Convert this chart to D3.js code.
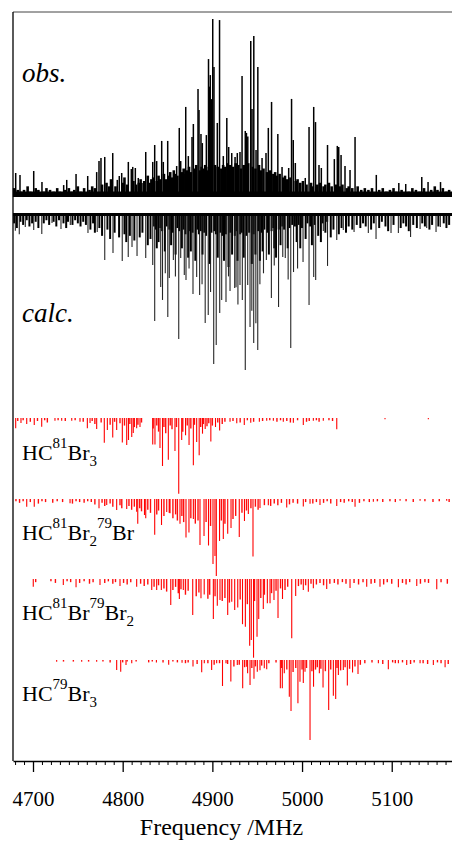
<!DOCTYPE html>
<html><head><meta charset="utf-8">
<script src="https://cdn.jsdelivr.net/npm/d3@7"></script>
<style>html,body{margin:0;padding:0;background:#fff;}svg{display:block;}</style>
</head><body>
<script>
// ---------- DATA (frequency MHz, relative intensity %) ----------
const majorTicks = [4700, 4800, 4900, 5000, 5100];
const xLabel = "Frequency /MHz";

const obsPeaks = [[4680.7,13.5],[4685.5,12.4],[4700.8,14.6],[4710.0,8.4],[4734.2,6.7],[4737.6,9.6],[4748.0,12.9],[4761.0,11.8],[4771.0,14.0],[4773.6,20.2],[4775.8,21.9],[4780.0,22.5],[4788.9,24.7],[4794.0,9.6],[4796.2,11.8],[4798.9,13.5],[4806.3,19.7],[4809.6,15.7],[4811.2,16.9],[4814.1,16.3],[4817.4,10.7],[4821.5,7.9],[4825.7,25.3],[4833.5,19.7],[4835.7,29.2],[4837.9,20.2],[4843.5,31.5],[4845.3,19.7],[4850.2,31.5],[4860.2,17.4],[4863.1,38.8],[4864.7,20.2],[4870.3,50.6],[4873.2,23.0],[4877.3,33.7],[4878.8,41.0],[4884.0,60.7],[4885.1,48.9],[4887.3,35.4],[4888.8,30.3],[4893.3,34.8],[4895.7,77.5],[4896.7,62],[4897.7,68.5],[4899.2,55],[4900.4,100],[4901.8,73.0],[4905.5,41.6],[4908.0,99.4],[4912.2,23.0],[4916.1,44.4],[4918.2,28.1],[4921.6,24.7],[4925.3,22.5],[4927.8,24.7],[4930.8,25.3],[4933.1,68.0],[4936.7,37.1],[4938.0,36],[4939.5,34],[4942.8,87.6],[4944.2,49.4],[4946.2,90.4],[4948.7,26.4],[4950.7,73.0],[4955.4,21.9],[4959.8,24.7],[4962.4,38.8],[4966.0,53.4],[4973.0,35.4],[4977.7,16.9],[4985.1,16.3],[4988.3,55.1],[4990.2,32.0],[4992.5,19.1],[5003.6,10.7],[5007.8,39.3],[5013.0,50.6],[5015.0,42.1],[5018.9,18.0],[5021.5,16.3],[5028.4,29.2],[5036.0,21.3],[5039.3,28.7],[5040.9,28.1],[5043.5,23.6],[5047.9,17.4],[5053.5,15.2],[5059.1,33.7],[5082.8,12.4],[5107.9,7.9],[5115.6,7.3],[5133.5,11.2],[5140.5,8.4],[5154.4,8.4]];

const obsGrass = [[4679,5],[4683,4],[4687,3],[4690,4],[4694,6],[4697,3],[4703,5],[4706,4],[4712,3],[4715,5],[4719,4],[4723,3],[4727,5],[4730,3],[4736,4],[4740,5],[4743,3],[4746,4],[4750,6],[4753,3],[4757,5],[4763,4],[4766,6],[4769,5],[4777,7],[4782,8],[4785,6],[4787,10],[4792,6],[4800,8],[4802,11],[4805,7],[4812,9],[4815,7],[4818,8],[4820,10],[4824,9],[4828,12],[4830,8],[4832,10],
[4834,11],[4838,9],[4840,12],[4842,10],[4846,13],[4848,10],[4851,12],[4853,14],[4855,11],[4857,15],[4859,13],[4861,12],[4866,14],[4868,16],[4870,13],[4872,15],[4874,17],[4876,14],[4880,16],[4882,18],[4886,15],[4888,17],[4890,16],[4892,18],[4894,15],[4896,17],[4899,16],[4903,18],[4906,17],[4910,16],[4912,18],[4914,17],[4917,19],[4920,18],[4923,17],[4926,19],[4929,18],[4932,16],[4935,18],[4938,17],[4940,19],[4945,17],[4948,16],[4952,18],[4954,15],[4957,16],[4961,14],[4964,15],[4968,13],[4970,14],[4972,12],[4975,13],[4979,11],[4981,12],[4983,10],[4987,11],[4993,9],[4995,10],
[4998,8],[5001,9],[5005,7],[5010,8],[5012,6],[5017,7],[5020,8],[5024,6],[5026,7],[5030,8],[5033,6],[5038,7],[5042,6],[5045,7],[5050,5],[5052,6],[5056,5],[5062,6],[5066,4],[5070,5],[5074,4],[5078,5],[5086,4],[5090,5],[5094,3],[5098,4],[5102,5],[5105,3],[5111,4],[5119,3],[5123,5],[5127,4],[5131,3],[5136,5],[5144,4],[5148,6],[5151,4],[5157,5],[5161,3],[5164,4]];

const calcPeaks = [[4680.3,10.7],[4684.7,13.0],[4691.4,8.3],[4700.8,10.3],[4709.8,12.8],[4721.2,5.8],[4731.2,9.6],[4741.6,7.1],[4761.3,12.2],[4771.6,11.5],[4780.0,29.5],[4789.2,25.0],[4799.5,30.1],[4806.2,27.6],[4810.4,21.2],[4816.0,27.0],[4825.7,28.2],[4833.5,32.7],[4835.7,68.6],[4842.4,46.8],[4844.4,55.1],[4847.5,38],[4850.3,66.0],[4852.0,41.0],[4856.5,29.5],[4858.8,40],[4862.5,80.1],[4864.7,28.2],[4868.7,39.1],[4870.6,42.3],[4874.0,35],[4878.4,51.3],[4882.5,40.4],[4885.8,51.9],[4888.5,45],[4892.0,69.9],[4895.4,64.7],[4898.0,50],[4901.5,96.2],[4904.3,84.0],[4908.2,63.5],[4910.4,55.1],[4915.2,56.4],[4918.0,40],[4919.7,49.4],[4924.9,47.4],[4926.4,47.0],[4928.5,58],[4930.8,45.5],[4933.4,55.1],[4936.7,100],[4939.4,45.5],[4942.0,72.4],[4944.0,62],[4946.1,82.7],[4948.5,70],[4950.6,87.2],[4953.0,45],[4957.0,38],[4960.2,29.5],[4965.8,53.8],[4969.0,33],[4973.8,59.6],[4978.5,27.6],[4981.3,28.2],[4984.5,42],[4987.4,85.9],[4990.5,37.2],[4995.0,35],[5001.1,30.8],[5007.8,58.3],[5013.0,40.4],[5015.2,42.3],[5023.7,10.9],[5028.4,33.3],[5038.7,16.7],[5046.0,10.3],[5058.0,11.5],[5073.9,12.2],[5082.5,16.0],[5099.2,12.2],[5107.4,12.2],[5121.0,14.7],[5131.6,9.6],[5139.0,9.0],[5149.4,11.5],[5154.2,8.3]];

const calcGrass = [[4679,6],[4682,9],[4686,5],[4689,7],[4693,4],[4696,8],[4699,6],[4703,5],[4706,9],[4712,6],[4715,4],[4718,7],[4723,5],[4726,8],[4729,4],[4734,6],[4737,9],[4739,5],[4744,7],[4747,4],[4750,6],[4753,8],[4756,5],[4759,7],[4764,10],[4767,6],[4769,12],[4774,9],[4777,14],[4783,10],[4786,16],[4791,12],[4796,15],[4802,13],[4804,18],[4808,14],[4813,17],[4819,15],[4822,12],[4828,20],[4831,16],[4838,22],[4840,18],[4847,24],[4854,20],[4859,26],[4866,22],[4873,28],[4876,24],[4881,30],[4889,26],[4897,32],[4906,28],[4913,30],[4918,34],[4922,26],[4928,30],[4935,28],[4944,32],[4948,26],[4953,30],[4956,24],[4963,26],[4969,22],[4971,28],[4976,20],[4984,22],[4994,18],[4998,22],[5004,16],[5011,20],[5018,14],[5021,18],[5026,12],[5032,15],[5035,10],[5041,13],[5044,9],[5049,12],[5052,8],[5056,10],[5061,7],[5065,9],[5068,6],[5071,8],[5077,10],[5080,6],[5086,9],[5089,5],[5093,8],[5096,11],[5102,7],[5110,9],[5113,6],[5116,8],[5119,11],[5124,7],[5128,9],[5134,6],[5137,8],[5142,10],[5145,7],[5152,8],[5158,6],[5161,9],[5164,7],
[4835,8],[4837,10],[4842,9],[4844,11],[4849,8],[4852,10],[4856,12],[4861,9],[4863,11],[4868,10],[4870,13],[4875,11],[4878,12],[4883,10],[4885,13],[4887,11],[4891,12],[4893,14],[4899,12],[4902,11],[4904,13],[4909,12],[4911,14],[4915,13],[4920,12],[4925,14],[4927,11],[4931,13],[4933,12],[4938,14],[4941,12],[4946,13],[4951,11],[4955,12],[4958,10],[4961,12],[4966,11],[4968,9],[4974,10],[4978,8],[4980,10],[4986,9],[4989,7],[4992,8],[4996,7],[5000,9],[5006,6],[5009,8],[5014,7],[5023,6],[5028,5]];

const iso1Peaks = [[4680.7,13.6],[4686.6,6.6],[4693.0,7.9],[4701.4,9.2],[4709.7,11.5],[4724.5,3.6],[4732.0,3.6],[4743.2,3.6],[4752.4,4.9],[4760.6,13.6],[4763.6,6.6],[4771.0,14.5],[4779.5,32.6],[4782.9,15.9],[4788.9,25.8],[4793.3,15.9],[4799.6,32.4],[4804.5,35.7],[4806.5,29.1],[4810.1,25.1],[4811.8,19.8],[4815.6,13.6],[4819.3,11.9],[4833.5,35.0],[4836.0,35.0],[4841.6,39.6],[4844.4,63.4],[4850.9,55.1],[4858.3,43.6],[4862.5,100],[4865.8,29.1],[4870.1,22.9],[4874.0,35.7],[4878.8,62.5],[4882.5,31.7],[4885.3,49.3],[4889.0,20.7],[4892.0,14.5],[4898.3,31.0],[4903.5,11.9],[4908.1,16.5],[4919.7,4.9],[4927.2,7.0],[4935.6,9.2],[4942.8,6.2],[4952.4,4.9],[4960.6,3.6],[4968.0,3.6],[4979.1,4.9],[4990.3,6.2],[5001.4,9.2],[5012.6,3.6],[5023.7,3.6],[5038.7,14.9],[5092.5,1.7],[5140.8,1.7]];
const iso1Grass = [[4683,4],[4689,3],[4697,5],[4705,4],[4713,3],[4716,6],[4728,3],[4736,4],[4747,3],[4756,5],[4766,4],[4769,8],[4776,6],[4786,9],[4791,5],[4797,7],[4802,10],[4808,8],[4813,12],[4817,9],[4821,6],[4834,14],[4838,10],[4840,18],[4846,12],[4848,20],[4853,10],[4855,15],[4860,12],[4867,18],[4872,10],[4876,14],[4880,9],[4887,12],[4890,8],[4894,11],[4896,7],[4900,10],[4906,6],[4911,8],[4914,5],[4923,4],[4931,6],[4939,3],[4946,5],[4956,4],[4964,3],[4972,5],[4976,3],[4983,4],[4987,6],[4995,3],[5005,5],[5008,4],[5016,3],[5019,5],[5030,3],[5034,4]];

const iso2Peaks = [[4693.0,10.0],[4701.4,10.0],[4741.3,5.6],[4773.6,12.1],[4782.2,7.8],[4793.3,14.3],[4804.5,13.0],[4815.6,16.5],[4816.8,32.1],[4824.3,20.8],[4825.7,25.1],[4835.7,46.4],[4843.3,33.8],[4849.1,16.9],[4852.8,18.6],[4863.9,32.1],[4870.6,50.0],[4873.9,43.5],[4878.8,26.0],[4886.2,59.7],[4890.7,48.1],[4895.7,60.4],[4900.7,84.4],[4902.9,74.0],[4904.4,100],[4908.0,54.5],[4912.2,51.9],[4917.1,45.1],[4920.8,37.7],[4930.0,49.4],[4935.8,28.6],[4940.1,19.5],[4945.3,74.7],[4953.1,11.7],[4962.4,8.2],[4982.9,11.0],[5001.4,9.7],[5008.9,6.1],[5020.0,7.8],[5038.7,9.1],[5059.1,10.0],[5079.5,3.5],[5109.3,2.2],[5131.6,2.2],[5161.3,2.2]];
const iso2Grass = [[4681,3],[4685,5],[4689,3],[4697,4],[4706,6],[4710,3],[4714,4],[4722,5],[4727,3],[4733,4],[4744,6],[4748,3],[4752,4],[4757,5],[4761,3],[4765,4],[4769,7],[4777,5],[4780,9],[4786,6],[4789,10],[4797,8],[4799,12],[4807,9],[4810,14],[4813,10],[4819,12],[4821,16],[4828,14],[4831,18],[4838,20],[4840,15],[4846,22],[4852,18],[4856,25],[4859,20],[4861,28],[4866,22],[4868,30],[4876,25],[4881,32],[4884,28],[4893,30],[4898,35],[4910,28],[4914,32],[4923,26],[4926,22],[4933,18],[4938,15],[4943,12],[4948,10],[4951,14],[4958,8],[4965,9],[4969,6],[4973,8],[4977,5],[4986,7],[4990,5],[4995,6],[5004,4],[5012,6],[5016,4],[5024,5],[5028,3],[5032,6],[5043,4],[5047,5],[5052,3],[5056,4],[5064,5],[5069,3],[5075,4],[5084,3],[5090,4],[5098,3],[5104,4],[5116,3],[5124,4],[5137,3],[5146,4],[5153,3],[5164,4]];

const iso3Peaks = [[4700.3,9.8],[4733.8,7.6],[4748.0,10.5],[4774.7,7.6],[4797.0,8.9],[4815.6,9.8],[4832.4,14.0],[4837.9,14.0],[4843.1,14.0],[4853.6,33.0],[4863.2,25.4],[4867.6,14.0],[4878.1,45.7],[4887.3,24.5],[4890.9,19.7],[4901.1,50.8],[4905.5,33.9],[4908.5,26.7],[4917.1,45.7],[4921.6,28.8],[4924.9,39.4],[4928.3,36.2],[4933.6,57.4],[4936.8,60.6],[4941.6,84.7],[4943.4,77.5],[4945.9,100],[4949.8,73.3],[4951.7,50.8],[4956.8,38.1],[4961.3,30.9],[4964.3,30.9],[4968.7,26.7],[4973.2,49.6],[4978.2,25.4],[4988.5,75.3],[4992.9,21.6],[5001.4,14.0],[5007.0,16.1],[5012.6,11.8],[5027.5,12.7],[5053.5,11.4],[5072.1,9.8],[5086.9,9.8],[5107.4,10.5],[5127.9,8.9],[5150.2,13.1]];
const iso3Grass = [[4703,4],[4720,3],[4725,5],[4738,3],[4742,4],[4752,5],[4757,3],[4763,6],[4767,4],[4780,5],[4784,3],[4789,6],[4792,4],[4801,5],[4805,7],[4809,4],[4820,6],[4824,9],[4828,7],[4835,10],[4840,8],[4846,12],[4849,16],[4856,14],[4859,10],[4862,18],[4865,13],[4870,20],[4873,15],[4882,22],[4885,17],[4895,25],[4897,20],[4903,22],[4911,28],[4914,24],[4919,30],[4931,26],[4939,32],[4947,28],[4954,24],[4958,20],[4966,18],[4971,15],[4976,12],[4981,14],[4984,10],[4996,9],[4999,7],[5004,8],[5010,6],[5016,7],[5020,5],[5024,8],[5031,6],[5036,5],[5040,7],[5045,4],[5049,6],[5058,5],[5063,7],[5068,4],[5077,6],[5081,5],[5091,7],[5095,4],[5100,6],[5112,5],[5116,7],[5120,4],[5132,6],[5137,4],[5141,5],[5155,4],[5162,6]];

const iso4Peaks = [[4726.4,2.1],[4754.3,2.1],[4771.0,2.1],[4793.3,12.5],[4797.8,14.6],[4803.7,6.3],[4810.1,4.1],[4837.6,3.1],[4851.3,5.9],[4866.2,3.5],[4878.4,8.1],[4888.1,15.4],[4891.0,4.1],[4899.2,12.5],[4904.8,4.1],[4911.3,32.5],[4915.2,4.1],[4920.6,26.9],[4927.8,6.3],[4933.8,35.4],[4938.3,8.4],[4939.3,16.6],[4942.0,31.3],[4946.4,23.5],[4950.1,14.6],[4953.1,12.9],[4957.9,10.4],[4960.6,11.6],[4975.8,35.4],[4978.0,35.4],[4980.2,16.6],[4985.8,45.9],[4987.7,63.8],[4995.4,54.1],[4997.7,27.1],[5001.4,28.8],[5003.3,14.6],[5008.9,100],[5012.8,33.4],[5019.3,16.6],[5023.4,34.4],[5029.7,62.5],[5034.9,44.6],[5037.5,48.8],[5040.5,18.8],[5046.0,12.5],[5050.5,31.9],[5056.3,15.6],[5062.4,17.5],[5085.1,4.1],[5096.2,11.6],[5107.4,4.1],[5116.7,6.3],[5131.6,4.1],[5146.4,6.3],[5159.5,9.1]];
const iso4Grass = [[4734,2],[4745,2],[4762,2],[4778,2],[4786,3],[4800,3],[4805,2],[4815,2],[4829,3],[4833,2],[4845,3],[4856,2],[4861,3],[4870,4],[4873,3],[4883,5],[4895,4],[4902,6],[4908,4],[4917,5],[4924,8],[4930,6],[4936,9],[4944,10],[4948,8],[4955,7],[4963,4],[4971,3],[4977,10],[4983,12],[4990,15],[4993,10],[5000,12],[5005,10],[5011,14],[5015,12],[5017,9],[5021,11],[5026,14],[5032,12],[5039,10],[5043,13],[5048,9],[5053,11],[5059,8],[5065,6],[5070,4],[5078,3],[5090,5],[5101,3],[5104,4],[5112,3],[5121,5],[5125,3],[5135,4],[5140,5],[5151,3],[5155,4],[5163,5]];

// ---------- DRAWING ----------
const W = 452, H = 845;
const L = 13, R = 452, T = 12, B = 761;
const serif = "'Liberation Serif','Times New Roman',Times,serif";

const svg = d3.select("body").append("svg").attr("width", W).attr("height", H);
svg.append("rect").attr("width", W).attr("height", H).attr("fill", "#fff");

const x = d3.scaleLinear().domain([4677.7, 5167.2]).range([L, R]);

function panel(data, base, tip, color, width, opacity) {
  const y = d3.scaleLinear().domain([0, 100]).range([base, tip]);
  const g = svg.append("g");
  g.selectAll("line").data(data).join("line")
    .attr("x1", d => x(d[0])).attr("x2", d => x(d[0]))
    .attr("y1", y(0)).attr("y2", d => y(d[1]))
    .attr("stroke", color).attr("stroke-width", width).attr("stroke-opacity", opacity);
  return g;
}

// obs
panel(obsGrass, 197, 19, "#000", 2.6, 1);
panel(obsPeaks, 197, 19, "#000", 1.5, 1);
svg.append("rect").attr("x", L).attr("y", 191.5).attr("width", R - L).attr("height", 5.5).attr("fill", "#000");

// calc
panel(calcGrass, 214, 370, "#000", 2, 1);
panel(calcPeaks, 214, 370, "#1a1a1a", 1.1, 0.95);
svg.append("rect").attr("x", L).attr("y", 213).attr("width", R - L).attr("height", 3).attr("fill", "#000");

// isotopologues
const red = "#ff0000";
panel(iso1Grass, 418, 493.7, red, 1.4, 0.95);
panel(iso1Peaks, 418, 493.7, red, 1.1, 1);
panel(iso2Grass, 499, 576, red, 1.4, 0.95);
panel(iso2Peaks, 499, 576, red, 1.1, 1);
panel(iso3Grass, 579, 657.7, red, 1.4, 0.95);
panel(iso3Peaks, 579, 657.7, red, 1.1, 1);
panel(iso4Grass, 660, 740, red, 1.4, 0.95);
panel(iso4Peaks, 660, 740, red, 1.1, 1);

// frame
svg.append("line").attr("x1", L).attr("x2", R).attr("y1", T).attr("y2", T).attr("stroke", "#444").attr("stroke-width", 1);
svg.append("line").attr("x1", L).attr("x2", L).attr("y1", T).attr("y2", B).attr("stroke", "#000").attr("stroke-width", 1.3);

// axis
const minorTicks = d3.range(4680, 5170, 10).filter(v => !majorTicks.includes(v));
const gMinor = svg.append("g").attr("transform", `translate(0,${B})`)
  .call(d3.axisBottom(x).tickValues(minorTicks).tickSize(4).tickSizeOuter(0).tickFormat(""));
gMinor.select(".domain").remove();
gMinor.selectAll("line").attr("stroke", "#000").attr("stroke-width", 1);
const gMajor = svg.append("g").attr("transform", `translate(0,${B})`)
  .call(d3.axisBottom(x).tickValues(majorTicks).tickSize(11).tickSizeOuter(0).tickFormat(d3.format("d")));
gMajor.select(".domain").attr("stroke", "#000").attr("stroke-width", 1.3);
gMajor.selectAll("line").attr("stroke", "#000").attr("stroke-width", 1.3);
gMajor.selectAll("text").attr("y", 45).attr("dy", 0)
  .attr("font-family", serif).attr("font-size", 21).attr("fill", "#000");

svg.append("text").attr("x", 221.5).attr("y", 835).attr("text-anchor", "middle")
  .attr("font-family", serif).attr("font-size", 24).attr("fill", "#000").text(xLabel);

// panel labels
svg.append("text").attr("x", 22).attr("y", 82).attr("font-family", serif).attr("font-style", "italic")
  .attr("font-size", 27).text("obs.");
svg.append("text").attr("x", 22).attr("y", 322).attr("font-family", serif).attr("font-style", "italic")
  .attr("font-size", 27).text("calc.");

const isoLabels = [
  { y: 460, parts: [["HC", 0], ["81", 1], ["Br", 0], ["3", -1]] },
  { y: 540, parts: [["HC", 0], ["81", 1], ["Br", 0], ["2", -1], ["79", 1], ["Br", 0]] },
  { y: 620, parts: [["HC", 0], ["81", 1], ["Br", 0], ["79", 1], ["Br", 0], ["2", -1]] },
  { y: 701, parts: [["HC", 0], ["79", 1], ["Br", 0], ["3", -1]] }
];
isoLabels.forEach(lab => {
  const t = svg.append("text").attr("x", 22).attr("y", lab.y).attr("font-family", serif).attr("fill", "#000");
  lab.parts.forEach(([s, k]) => {
    const off = k === 1 ? -12 : (k === -1 ? 6 : 0);
    t.append("tspan").attr("y", lab.y + off).attr("font-size", k === 0 ? 22 : 15).text(s);
  });
});
</script>
</body></html>
